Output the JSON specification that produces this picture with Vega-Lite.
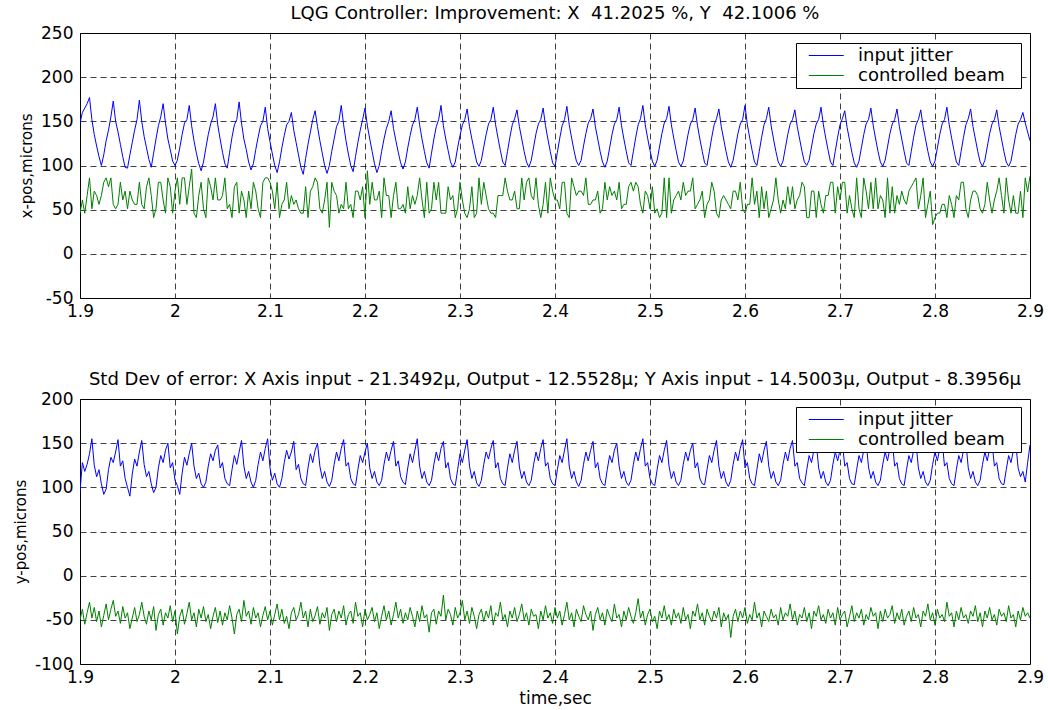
{
"$schema": "https://vega.github.io/schema/vega-lite/v6.json",
"background": "white",
"padding": {"left": 12, "top": 4, "right": 5, "bottom": 5},
"spacing": 50,
"data": {"values": [
{"t":1.9,"a":148,"b":46,"c":95,"d":-50},{"t":1.9025,"a":160,"b":61,"c":128,"d":-38},{"t":1.905,"a":165,"b":46,"c":118,"d":-55},{"t":1.9075,"a":170,"b":66,"c":126,"d":-42},
{"t":1.91,"a":177,"b":86,"c":138,"d":-30},{"t":1.9125,"a":152,"b":51,"c":155,"d":-48},{"t":1.915,"a":135,"b":71,"c":125,"d":-36},{"t":1.9175,"a":122,"b":66,"c":112,"d":-52},
{"t":1.92,"a":110,"b":56,"c":120,"d":-40},{"t":1.9225,"a":100,"b":66,"c":104,"d":-58},{"t":1.925,"a":112,"b":81,"c":92,"d":-45},{"t":1.9275,"a":128,"b":86,"c":98,"d":-32},
{"t":1.93,"a":140,"b":76,"c":120,"d":-50},{"t":1.9325,"a":155,"b":86,"c":134,"d":-38},{"t":1.935,"a":173,"b":56,"c":128,"d":-28},{"t":1.9375,"a":150,"b":51,"c":140,"d":-46},
{"t":1.94,"a":138,"b":56,"c":154,"d":-40},{"t":1.9425,"a":124,"b":81,"c":124,"d":-54},{"t":1.945,"a":110,"b":61,"c":130,"d":-35},{"t":1.9475,"a":98,"b":71,"c":110,"d":-48},
{"t":1.95,"a":97,"b":51,"c":100,"d":-42},{"t":1.9525,"a":112,"b":71,"c":90,"d":-60},{"t":1.955,"a":126,"b":61,"c":115,"d":-48},{"t":1.9575,"a":140,"b":56,"c":132,"d":-36},
{"t":1.96,"a":152,"b":56,"c":124,"d":-52},{"t":1.9625,"a":174,"b":81,"c":140,"d":-44},{"t":1.965,"a":150,"b":56,"c":153,"d":-30},{"t":1.9675,"a":133,"b":51,"c":126,"d":-46},
{"t":1.97,"a":120,"b":76,"c":112,"d":-55},{"t":1.9725,"a":107,"b":86,"c":118,"d":-40},{"t":1.975,"a":98,"b":66,"c":104,"d":-50},{"t":1.9775,"a":114,"b":41,"c":94,"d":-35},
{"t":1.98,"a":130,"b":51,"c":100,"d":-62},{"t":1.9825,"a":145,"b":81,"c":122,"d":-44},{"t":1.985,"a":155,"b":81,"c":136,"d":-38},{"t":1.9875,"a":170,"b":61,"c":128,"d":-56},
{"t":1.99,"a":148,"b":46,"c":142,"d":-42},{"t":1.9925,"a":130,"b":86,"c":150,"d":-48},{"t":1.995,"a":118,"b":76,"c":122,"d":-34},{"t":1.9975,"a":105,"b":46,"c":128,"d":-52},
{"t":2.0,"a":100,"b":71,"c":108,"d":-40},{"t":2.0025,"a":106,"b":86,"c":102,"d":-66},{"t":2.005,"a":120,"b":56,"c":92,"d":-46},{"t":2.0075,"a":135,"b":86,"c":116,"d":-38},
{"t":2.01,"a":148,"b":86,"c":134,"d":-55},{"t":2.0125,"a":152,"b":56,"c":125,"d":-43},{"t":2.015,"a":168,"b":76,"c":138,"d":-30},{"t":2.0175,"a":145,"b":96,"c":150,"d":-50},
{"t":2.02,"a":128,"b":46,"c":124,"d":-42},{"t":2.0225,"a":114,"b":41,"c":110,"d":-58},{"t":2.025,"a":102,"b":66,"c":116,"d":-38},{"t":2.0275,"a":94,"b":81,"c":104,"d":-48},
{"t":2.03,"a":104,"b":51,"c":100,"d":-35},{"t":2.0325,"a":120,"b":41,"c":106,"d":-52},{"t":2.035,"a":135,"b":86,"c":124,"d":-44},{"t":2.0375,"a":147,"b":76,"c":138,"d":-60},
{"t":2.04,"a":155,"b":61,"c":130,"d":-46},{"t":2.0425,"a":170,"b":86,"c":142,"d":-36},{"t":2.045,"a":146,"b":61,"c":148,"d":-53},{"t":2.0475,"a":130,"b":61,"c":122,"d":-40},
{"t":2.05,"a":115,"b":66,"c":128,"d":-56},{"t":2.0525,"a":102,"b":86,"c":110,"d":-42},{"t":2.055,"a":97,"b":51,"c":104,"d":-50},{"t":2.0575,"a":115,"b":56,"c":102,"d":-34},
{"t":2.06,"a":132,"b":41,"c":120,"d":-48},{"t":2.0625,"a":146,"b":76,"c":136,"d":-66},{"t":2.065,"a":152,"b":81,"c":126,"d":-44},{"t":2.0675,"a":172,"b":46,"c":140,"d":-38},
{"t":2.07,"a":148,"b":71,"c":153,"d":-52},{"t":2.0725,"a":130,"b":61,"c":124,"d":-28},{"t":2.075,"a":118,"b":41,"c":110,"d":-46},{"t":2.0775,"a":104,"b":71,"c":118,"d":-40},
{"t":2.08,"a":95,"b":51,"c":106,"d":-55},{"t":2.0825,"a":102,"b":81,"c":100,"d":-36},{"t":2.085,"a":118,"b":71,"c":108,"d":-48},{"t":2.0875,"a":132,"b":51,"c":126,"d":-42},
{"t":2.09,"a":145,"b":41,"c":140,"d":-58},{"t":2.0925,"a":150,"b":81,"c":130,"d":-45},{"t":2.095,"a":166,"b":86,"c":144,"d":-35},{"t":2.0975,"a":142,"b":86,"c":155,"d":-50},
{"t":2.1,"a":127,"b":81,"c":122,"d":-40},{"t":2.1025,"a":113,"b":71,"c":108,"d":-56},{"t":2.105,"a":100,"b":51,"c":116,"d":-44},{"t":2.1075,"a":92,"b":81,"c":104,"d":-32},
{"t":2.11,"a":104,"b":41,"c":100,"d":-50},{"t":2.1125,"a":120,"b":56,"c":110,"d":-38},{"t":2.115,"a":134,"b":61,"c":128,"d":-54},{"t":2.1175,"a":146,"b":81,"c":142,"d":-46},
{"t":2.12,"a":150,"b":51,"c":132,"d":-60},{"t":2.1225,"a":160,"b":66,"c":140,"d":-42},{"t":2.125,"a":140,"b":56,"c":152,"d":-36},{"t":2.1275,"a":126,"b":61,"c":120,"d":-50},
{"t":2.13,"a":112,"b":51,"c":126,"d":-44},{"t":2.1325,"a":98,"b":46,"c":110,"d":-30},{"t":2.135,"a":90,"b":46,"c":104,"d":-48},{"t":2.1375,"a":108,"b":76,"c":102,"d":-40},
{"t":2.14,"a":124,"b":41,"c":122,"d":-58},{"t":2.1425,"a":138,"b":71,"c":138,"d":-38},{"t":2.145,"a":152,"b":76,"c":128,"d":-52},{"t":2.1475,"a":162,"b":86,"c":142,"d":-45},
{"t":2.15,"a":144,"b":81,"c":150,"d":-35},{"t":2.1525,"a":128,"b":51,"c":124,"d":-55},{"t":2.155,"a":114,"b":46,"c":110,"d":-42},{"t":2.1575,"a":100,"b":61,"c":118,"d":-48},
{"t":2.16,"a":91,"b":81,"c":106,"d":-36},{"t":2.1625,"a":100,"b":30,"c":101,"d":-62},{"t":2.165,"a":116,"b":81,"c":108,"d":-44},{"t":2.1675,"a":130,"b":71,"c":126,"d":-38},
{"t":2.17,"a":144,"b":66,"c":140,"d":-52},{"t":2.1725,"a":150,"b":46,"c":130,"d":-40},{"t":2.175,"a":168,"b":56,"c":144,"d":-48},{"t":2.1775,"a":146,"b":51,"c":154,"d":-34},
{"t":2.18,"a":128,"b":81,"c":124,"d":-56},{"t":2.1825,"a":113,"b":51,"c":128,"d":-44},{"t":2.185,"a":100,"b":56,"c":110,"d":-40},{"t":2.1875,"a":93,"b":41,"c":104,"d":-54},
{"t":2.19,"a":110,"b":71,"c":102,"d":-30},{"t":2.1925,"a":126,"b":71,"c":120,"d":-46},{"t":2.195,"a":140,"b":61,"c":136,"d":-42},{"t":2.1975,"a":152,"b":76,"c":128,"d":-58},
{"t":2.2,"a":165,"b":41,"c":140,"d":-38},{"t":2.2025,"a":145,"b":94,"c":150,"d":-50},{"t":2.205,"a":130,"b":56,"c":122,"d":-44},{"t":2.2075,"a":116,"b":81,"c":110,"d":-36},
{"t":2.21,"a":102,"b":61,"c":118,"d":-52},{"t":2.2125,"a":92,"b":61,"c":106,"d":-42},{"t":2.215,"a":100,"b":71,"c":102,"d":-60},{"t":2.2175,"a":116,"b":41,"c":108,"d":-46},
{"t":2.22,"a":130,"b":86,"c":126,"d":-34},{"t":2.2225,"a":142,"b":66,"c":140,"d":-50},{"t":2.225,"a":150,"b":66,"c":130,"d":-40},{"t":2.2275,"a":162,"b":41,"c":142,"d":-56},
{"t":2.23,"a":142,"b":66,"c":152,"d":-44},{"t":2.2325,"a":128,"b":81,"c":124,"d":-30},{"t":2.235,"a":115,"b":51,"c":130,"d":-48},{"t":2.2375,"a":103,"b":51,"c":112,"d":-38},
{"t":2.24,"a":96,"b":56,"c":106,"d":-54},{"t":2.2425,"a":104,"b":46,"c":103,"d":-42},{"t":2.245,"a":120,"b":76,"c":122,"d":-50},{"t":2.2475,"a":134,"b":51,"c":138,"d":-36},
{"t":2.25,"a":146,"b":66,"c":128,"d":-46},{"t":2.2525,"a":152,"b":56,"c":142,"d":-58},{"t":2.255,"a":166,"b":66,"c":155,"d":-40},{"t":2.2575,"a":146,"b":86,"c":124,"d":-52},
{"t":2.26,"a":130,"b":61,"c":110,"d":-34},{"t":2.2625,"a":116,"b":41,"c":118,"d":-48},{"t":2.265,"a":103,"b":81,"c":106,"d":-44},{"t":2.2675,"a":97,"b":46,"c":102,"d":-64},
{"t":2.27,"a":114,"b":51,"c":108,"d":-42},{"t":2.2725,"a":130,"b":81,"c":126,"d":-38},{"t":2.275,"a":144,"b":61,"c":140,"d":-55},{"t":2.2775,"a":152,"b":81,"c":130,"d":-40},
{"t":2.28,"a":168,"b":46,"c":144,"d":-46},{"t":2.2825,"a":145,"b":46,"c":152,"d":-22},{"t":2.285,"a":130,"b":46,"c":122,"d":-50},{"t":2.2875,"a":117,"b":76,"c":128,"d":-38},
{"t":2.29,"a":104,"b":61,"c":110,"d":-44},{"t":2.2925,"a":98,"b":66,"c":104,"d":-56},{"t":2.295,"a":104,"b":41,"c":102,"d":-36},{"t":2.2975,"a":120,"b":51,"c":120,"d":-48},
{"t":2.3,"a":134,"b":81,"c":138,"d":-42},{"t":2.3025,"a":146,"b":61,"c":128,"d":-28},{"t":2.305,"a":152,"b":46,"c":142,"d":-50},{"t":2.3075,"a":164,"b":41,"c":154,"d":-40},
{"t":2.31,"a":144,"b":51,"c":124,"d":-54},{"t":2.3125,"a":130,"b":76,"c":110,"d":-36},{"t":2.315,"a":117,"b":41,"c":118,"d":-46},{"t":2.3175,"a":104,"b":46,"c":105,"d":-60},
{"t":2.32,"a":99,"b":86,"c":101,"d":-44},{"t":2.3225,"a":106,"b":56,"c":108,"d":-38},{"t":2.325,"a":121,"b":81,"c":126,"d":-52},{"t":2.3275,"a":135,"b":66,"c":140,"d":-40},
{"t":2.33,"a":147,"b":51,"c":132,"d":-48},{"t":2.3325,"a":152,"b":46,"c":144,"d":-34},{"t":2.335,"a":166,"b":46,"c":153,"d":-56},{"t":2.3375,"a":146,"b":41,"c":122,"d":-42},
{"t":2.34,"a":131,"b":66,"c":128,"d":-46},{"t":2.3425,"a":117,"b":66,"c":110,"d":-30},{"t":2.345,"a":104,"b":66,"c":104,"d":-50},{"t":2.3475,"a":100,"b":86,"c":102,"d":-44},
{"t":2.35,"a":116,"b":71,"c":122,"d":-58},{"t":2.3525,"a":132,"b":61,"c":138,"d":-40},{"t":2.355,"a":146,"b":61,"c":128,"d":-48},{"t":2.3575,"a":153,"b":71,"c":142,"d":-36},
{"t":2.36,"a":163,"b":51,"c":152,"d":-52},{"t":2.3625,"a":144,"b":51,"c":123,"d":-44},{"t":2.365,"a":130,"b":86,"c":110,"d":-32},{"t":2.3675,"a":116,"b":61,"c":118,"d":-50},
{"t":2.37,"a":104,"b":81,"c":106,"d":-42},{"t":2.3725,"a":98,"b":86,"c":102,"d":-56},{"t":2.375,"a":106,"b":66,"c":108,"d":-38},{"t":2.3775,"a":121,"b":61,"c":126,"d":-46},
{"t":2.38,"a":136,"b":86,"c":140,"d":-44},{"t":2.3825,"a":147,"b":56,"c":130,"d":-60},{"t":2.385,"a":152,"b":41,"c":144,"d":-40},{"t":2.3875,"a":165,"b":56,"c":154,"d":-50},
{"t":2.39,"a":145,"b":81,"c":124,"d":-34},{"t":2.3925,"a":130,"b":46,"c":128,"d":-48},{"t":2.395,"a":116,"b":86,"c":110,"d":-42},{"t":2.3975,"a":103,"b":71,"c":104,"d":-54},
{"t":2.4,"a":99,"b":61,"c":102,"d":-36},{"t":2.4025,"a":115,"b":61,"c":120,"d":-48},{"t":2.405,"a":131,"b":51,"c":136,"d":-40},{"t":2.4075,"a":145,"b":81,"c":128,"d":-56},
{"t":2.41,"a":152,"b":81,"c":142,"d":-44},{"t":2.4125,"a":167,"b":46,"c":155,"d":-30},{"t":2.415,"a":146,"b":41,"c":124,"d":-50},{"t":2.4175,"a":131,"b":86,"c":110,"d":-42},
{"t":2.42,"a":117,"b":76,"c":118,"d":-58},{"t":2.4225,"a":105,"b":66,"c":106,"d":-38},{"t":2.425,"a":100,"b":71,"c":101,"d":-46},{"t":2.4275,"a":106,"b":71,"c":108,"d":-52},
{"t":2.43,"a":122,"b":66,"c":126,"d":-34},{"t":2.4325,"a":136,"b":86,"c":140,"d":-44},{"t":2.435,"a":148,"b":56,"c":130,"d":-50},{"t":2.4375,"a":153,"b":56,"c":142,"d":-40},
{"t":2.44,"a":164,"b":61,"c":152,"d":-62},{"t":2.4425,"a":144,"b":61,"c":122,"d":-44},{"t":2.445,"a":130,"b":71,"c":128,"d":-36},{"t":2.4475,"a":116,"b":46,"c":110,"d":-50},
{"t":2.45,"a":104,"b":51,"c":104,"d":-42},{"t":2.4525,"a":98,"b":81,"c":102,"d":-56},{"t":2.455,"a":105,"b":61,"c":120,"d":-38},{"t":2.4575,"a":120,"b":76,"c":136,"d":-46},
{"t":2.46,"a":135,"b":66,"c":128,"d":-52},{"t":2.4625,"a":147,"b":71,"c":142,"d":-32},{"t":2.465,"a":152,"b":61,"c":150,"d":-48},{"t":2.4675,"a":166,"b":81,"c":124,"d":-44},
{"t":2.47,"a":145,"b":51,"c":110,"d":-58},{"t":2.4725,"a":130,"b":56,"c":118,"d":-40},{"t":2.475,"a":116,"b":56,"c":106,"d":-50},{"t":2.4775,"a":103,"b":76,"c":102,"d":-36},
{"t":2.48,"a":100,"b":81,"c":108,"d":-46},{"t":2.4825,"a":116,"b":71,"c":126,"d":-54},{"t":2.485,"a":132,"b":81,"c":140,"d":-42},{"t":2.4875,"a":146,"b":76,"c":130,"d":-26},
{"t":2.49,"a":153,"b":56,"c":144,"d":-48},{"t":2.4925,"a":168,"b":46,"c":155,"d":-40},{"t":2.495,"a":146,"b":71,"c":124,"d":-56},{"t":2.4975,"a":131,"b":66,"c":128,"d":-44},
{"t":2.5,"a":117,"b":51,"c":110,"d":-38},{"t":2.5025,"a":105,"b":76,"c":104,"d":-52},{"t":2.505,"a":99,"b":46,"c":102,"d":-46},{"t":2.5075,"a":106,"b":51,"c":120,"d":-60},
{"t":2.51,"a":121,"b":41,"c":136,"d":-40},{"t":2.5125,"a":136,"b":46,"c":128,"d":-48},{"t":2.515,"a":148,"b":86,"c":142,"d":-34},{"t":2.5175,"a":153,"b":41,"c":153,"d":-50},
{"t":2.52,"a":167,"b":86,"c":124,"d":-44},{"t":2.5225,"a":146,"b":46,"c":110,"d":-56},{"t":2.525,"a":131,"b":61,"c":118,"d":-38},{"t":2.5275,"a":117,"b":66,"c":106,"d":-48},
{"t":2.53,"a":104,"b":71,"c":102,"d":-42},{"t":2.5325,"a":99,"b":61,"c":108,"d":-54},{"t":2.535,"a":105,"b":81,"c":126,"d":-36},{"t":2.5375,"a":120,"b":66,"c":140,"d":-50},
{"t":2.54,"a":135,"b":71,"c":130,"d":-44},{"t":2.5425,"a":147,"b":71,"c":142,"d":-60},{"t":2.545,"a":152,"b":86,"c":150,"d":-40},{"t":2.5475,"a":165,"b":51,"c":122,"d":-46},
{"t":2.55,"a":145,"b":56,"c":128,"d":-32},{"t":2.5525,"a":130,"b":61,"c":110,"d":-50},{"t":2.555,"a":116,"b":71,"c":104,"d":-42},{"t":2.5575,"a":103,"b":41,"c":103,"d":-56},
{"t":2.56,"a":100,"b":56,"c":120,"d":-38},{"t":2.5625,"a":116,"b":61,"c":136,"d":-46},{"t":2.565,"a":132,"b":81,"c":128,"d":-52},{"t":2.5675,"a":146,"b":71,"c":142,"d":-40},
{"t":2.57,"a":153,"b":46,"c":153,"d":-48},{"t":2.5725,"a":164,"b":41,"c":124,"d":-36},{"t":2.575,"a":144,"b":61,"c":110,"d":-58},{"t":2.5775,"a":130,"b":66,"c":118,"d":-42},
{"t":2.58,"a":116,"b":61,"c":106,"d":-50},{"t":2.5825,"a":104,"b":56,"c":101,"d":-44},{"t":2.585,"a":98,"b":51,"c":108,"d":-70},{"t":2.5875,"a":106,"b":71,"c":126,"d":-46},
{"t":2.59,"a":121,"b":71,"c":140,"d":-38},{"t":2.5925,"a":136,"b":61,"c":130,"d":-52},{"t":2.595,"a":147,"b":81,"c":144,"d":-40},{"t":2.5975,"a":152,"b":51,"c":154,"d":-48},
{"t":2.6,"a":168,"b":46,"c":122,"d":-36},{"t":2.6025,"a":146,"b":56,"c":128,"d":-54},{"t":2.605,"a":131,"b":56,"c":110,"d":-44},{"t":2.6075,"a":117,"b":86,"c":104,"d":-50},
{"t":2.61,"a":104,"b":56,"c":102,"d":-30},{"t":2.6125,"a":100,"b":71,"c":120,"d":-48},{"t":2.615,"a":116,"b":41,"c":138,"d":-42},{"t":2.6175,"a":132,"b":76,"c":128,"d":-58},
{"t":2.62,"a":146,"b":51,"c":142,"d":-40},{"t":2.6225,"a":153,"b":71,"c":152,"d":-46},{"t":2.625,"a":166,"b":41,"c":124,"d":-52},{"t":2.6275,"a":145,"b":51,"c":110,"d":-38},
{"t":2.63,"a":130,"b":61,"c":118,"d":-48},{"t":2.6325,"a":116,"b":86,"c":106,"d":-44},{"t":2.635,"a":104,"b":61,"c":102,"d":-56},{"t":2.6375,"a":99,"b":46,"c":108,"d":-36},
{"t":2.64,"a":105,"b":61,"c":126,"d":-50},{"t":2.6425,"a":120,"b":51,"c":140,"d":-42},{"t":2.645,"a":135,"b":76,"c":130,"d":-46},{"t":2.6475,"a":147,"b":56,"c":144,"d":-32},
{"t":2.65,"a":152,"b":76,"c":153,"d":-50},{"t":2.6525,"a":163,"b":51,"c":124,"d":-40},{"t":2.655,"a":144,"b":61,"c":128,"d":-56},{"t":2.6575,"a":130,"b":66,"c":110,"d":-44},
{"t":2.66,"a":116,"b":81,"c":105,"d":-48},{"t":2.6625,"a":104,"b":76,"c":102,"d":-36},{"t":2.665,"a":100,"b":41,"c":120,"d":-52},{"t":2.6675,"a":106,"b":41,"c":136,"d":-42},
{"t":2.67,"a":121,"b":71,"c":128,"d":-60},{"t":2.6725,"a":136,"b":71,"c":142,"d":-40},{"t":2.675,"a":147,"b":41,"c":151,"d":-46},{"t":2.6775,"a":152,"b":71,"c":122,"d":-34},
{"t":2.68,"a":166,"b":56,"c":110,"d":-50},{"t":2.6825,"a":146,"b":46,"c":118,"d":-44},{"t":2.685,"a":131,"b":66,"c":106,"d":-54},{"t":2.6875,"a":117,"b":66,"c":102,"d":-38},
{"t":2.69,"a":104,"b":81,"c":108,"d":-48},{"t":2.6925,"a":100,"b":81,"c":126,"d":-42},{"t":2.695,"a":116,"b":46,"c":140,"d":-56},{"t":2.6975,"a":132,"b":76,"c":130,"d":-36},
{"t":2.7,"a":146,"b":61,"c":142,"d":-50},{"t":2.7025,"a":153,"b":81,"c":150,"d":-44},{"t":2.705,"a":162,"b":81,"c":124,"d":-40},{"t":2.7075,"a":143,"b":46,"c":128,"d":-58},
{"t":2.71,"a":129,"b":66,"c":110,"d":-46},{"t":2.7125,"a":115,"b":51,"c":104,"d":-34},{"t":2.715,"a":103,"b":41,"c":103,"d":-52},{"t":2.7175,"a":98,"b":86,"c":120,"d":-42},
{"t":2.72,"a":105,"b":51,"c":136,"d":-48},{"t":2.7225,"a":120,"b":41,"c":128,"d":-38},{"t":2.725,"a":135,"b":86,"c":142,"d":-56},{"t":2.7275,"a":147,"b":71,"c":152,"d":-44},
{"t":2.73,"a":152,"b":51,"c":123,"d":-50},{"t":2.7325,"a":165,"b":81,"c":110,"d":-36},{"t":2.735,"a":145,"b":51,"c":118,"d":-46},{"t":2.7375,"a":130,"b":86,"c":106,"d":-42},
{"t":2.74,"a":116,"b":51,"c":102,"d":-60},{"t":2.7425,"a":104,"b":66,"c":108,"d":-40},{"t":2.745,"a":99,"b":61,"c":126,"d":-52},{"t":2.7475,"a":106,"b":41,"c":140,"d":-38},
{"t":2.75,"a":121,"b":86,"c":130,"d":-48},{"t":2.7525,"a":136,"b":46,"c":144,"d":-44},{"t":2.755,"a":147,"b":76,"c":154,"d":-34},{"t":2.7575,"a":152,"b":46,"c":124,"d":-54},
{"t":2.76,"a":164,"b":66,"c":128,"d":-42},{"t":2.7625,"a":144,"b":56,"c":110,"d":-50},{"t":2.765,"a":130,"b":71,"c":104,"d":-38},{"t":2.7675,"a":116,"b":61,"c":102,"d":-56},
{"t":2.77,"a":103,"b":56,"c":120,"d":-46},{"t":2.7725,"a":100,"b":71,"c":136,"d":-40},{"t":2.775,"a":116,"b":76,"c":128,"d":-52},{"t":2.7775,"a":132,"b":81,"c":142,"d":-36},
{"t":2.78,"a":146,"b":86,"c":150,"d":-48},{"t":2.7825,"a":152,"b":51,"c":122,"d":-44},{"t":2.785,"a":163,"b":66,"c":110,"d":-58},{"t":2.7875,"a":144,"b":86,"c":118,"d":-40},
{"t":2.79,"a":130,"b":41,"c":106,"d":-46},{"t":2.7925,"a":116,"b":56,"c":102,"d":-32},{"t":2.795,"a":104,"b":71,"c":108,"d":-50},{"t":2.7975,"a":99,"b":33,"c":126,"d":-42},
{"t":2.8,"a":105,"b":41,"c":140,"d":-56},{"t":2.8025,"a":120,"b":46,"c":130,"d":-38},{"t":2.805,"a":135,"b":46,"c":144,"d":-48},{"t":2.8075,"a":147,"b":56,"c":153,"d":-44},
{"t":2.81,"a":152,"b":56,"c":124,"d":-52},{"t":2.8125,"a":166,"b":41,"c":128,"d":-30},{"t":2.815,"a":146,"b":66,"c":110,"d":-46},{"t":2.8175,"a":131,"b":56,"c":104,"d":-42},
{"t":2.82,"a":117,"b":41,"c":102,"d":-58},{"t":2.8225,"a":104,"b":66,"c":120,"d":-40},{"t":2.825,"a":100,"b":61,"c":136,"d":-50},{"t":2.8275,"a":116,"b":81,"c":128,"d":-36},
{"t":2.83,"a":132,"b":81,"c":142,"d":-48},{"t":2.8325,"a":146,"b":51,"c":151,"d":-44},{"t":2.835,"a":153,"b":41,"c":122,"d":-54},{"t":2.8375,"a":164,"b":61,"c":110,"d":-40},
{"t":2.84,"a":144,"b":71,"c":118,"d":-46},{"t":2.8425,"a":130,"b":71,"c":106,"d":-34},{"t":2.845,"a":116,"b":66,"c":102,"d":-52},{"t":2.8475,"a":104,"b":51,"c":108,"d":-42},
{"t":2.85,"a":99,"b":46,"c":126,"d":-58},{"t":2.8525,"a":106,"b":56,"c":140,"d":-40},{"t":2.855,"a":121,"b":81,"c":130,"d":-48},{"t":2.8575,"a":136,"b":61,"c":144,"d":-36},
{"t":2.86,"a":147,"b":46,"c":152,"d":-50},{"t":2.8625,"a":152,"b":61,"c":124,"d":-44},{"t":2.865,"a":163,"b":71,"c":128,"d":-56},{"t":2.8675,"a":144,"b":86,"c":110,"d":-38},
{"t":2.87,"a":130,"b":66,"c":104,"d":-46},{"t":2.8725,"a":116,"b":46,"c":103,"d":-42},{"t":2.875,"a":104,"b":86,"c":120,"d":-52},{"t":2.8775,"a":99,"b":61,"c":136,"d":-34},
{"t":2.88,"a":105,"b":46,"c":128,"d":-48},{"t":2.8825,"a":120,"b":66,"c":142,"d":-44},{"t":2.885,"a":135,"b":46,"c":150,"d":-58},{"t":2.8875,"a":147,"b":46,"c":122,"d":-40},
{"t":2.89,"a":152,"b":71,"c":112,"d":-50},{"t":2.8925,"a":160,"b":41,"c":118,"d":-36},{"t":2.895,"a":148,"b":86,"c":106,"d":-46},{"t":2.8975,"a":138,"b":70,"c":128,"d":-42},
{"t":2.9,"a":128,"b":88,"c":148,"d":-48}
]},
"resolve": {"scale": {"color": "independent", "x": "independent", "y": "independent"}, "legend": {"color": "independent"}},
"vconcat": [
{
"width": 950, "height": 265,
"title": {"text": "LQG Controller: Improvement: X\u00a0 41.2025 %, Y\u00a0 42.1006 %"},
"layer": [
{"mark": {"type": "line", "strokeWidth": 1, "clip": true},
 "encoding": {
  "x": {"field": "t", "type": "quantitative", "scale": {"domain": [1.9, 2.9], "nice": false, "zero": false}, "axis": {"title": null, "values": [1.9, 2, 2.1, 2.2, 2.3, 2.4, 2.5, 2.6, 2.7, 2.8, 2.9], "labelExpr": "'' + datum.value"}},
  "y": {"field": "a", "type": "quantitative", "scale": {"domain": [-50, 250], "nice": false, "zero": false}, "axis": {"title": "x-pos,microns", "values": [-50, 0, 50, 100, 150, 200, 250], "labelExpr": "'' + datum.value"}},
  "color": {"datum": "input jitter", "type": "nominal", "scale": {"domain": ["input jitter", "controlled beam"], "range": ["#0000ff", "#008000"]}, "legend": {"title": null, "orient": "none", "legendX": 716, "legendY": 10, "labelExpr": "datum.label + '\u2800'"}}
 }},
{"mark": {"type": "line", "strokeWidth": 1, "clip": true},
 "encoding": {
  "x": {"field": "t", "type": "quantitative", "axis": {"title": null, "values": [1.9, 2, 2.1, 2.2, 2.3, 2.4, 2.5, 2.6, 2.7, 2.8, 2.9], "labelExpr": "'' + datum.value"}},
  "y": {"field": "b", "type": "quantitative", "axis": {"title": "x-pos,microns", "values": [-50, 0, 50, 100, 150, 200, 250], "labelExpr": "'' + datum.value"}},
  "color": {"datum": "controlled beam", "type": "nominal", "legend": {"title": null, "orient": "none", "legendX": 716, "legendY": 10, "labelExpr": "datum.label + '\u2800'"}}
 }}
]
},
{
"width": 950, "height": 265,
"title": {"text": "Std Dev of error: X Axis input - 21.3492\u03bc, Output - 12.5528\u03bc; Y Axis input - 14.5003\u03bc, Output - 8.3956\u03bc"},
"layer": [
{"mark": {"type": "line", "strokeWidth": 1, "clip": true},
 "encoding": {
  "x": {"field": "t", "type": "quantitative", "scale": {"domain": [1.9, 2.9], "nice": false, "zero": false}, "axis": {"title": "time,sec", "values": [1.9, 2, 2.1, 2.2, 2.3, 2.4, 2.5, 2.6, 2.7, 2.8, 2.9], "labelExpr": "'' + datum.value"}},
  "y": {"field": "c", "type": "quantitative", "scale": {"domain": [-100, 200], "nice": false, "zero": false}, "axis": {"title": "y-pos,microns", "values": [-100, -50, 0, 50, 100, 150, 200], "labelExpr": "'' + datum.value"}},
  "color": {"datum": "input jitter", "type": "nominal", "scale": {"domain": ["input jitter", "controlled beam"], "range": ["#0000ff", "#008000"]}, "legend": {"title": null, "orient": "none", "legendX": 716, "legendY": 8, "labelExpr": "datum.label + '\u2800'"}}
 }},
{"mark": {"type": "line", "strokeWidth": 1, "clip": true},
 "encoding": {
  "x": {"field": "t", "type": "quantitative", "axis": {"title": "time,sec", "values": [1.9, 2, 2.1, 2.2, 2.3, 2.4, 2.5, 2.6, 2.7, 2.8, 2.9], "labelExpr": "'' + datum.value"}},
  "y": {"field": "d", "type": "quantitative", "axis": {"title": "y-pos,microns", "values": [-100, -50, 0, 50, 100, 150, 200], "labelExpr": "'' + datum.value"}},
  "color": {"datum": "controlled beam", "type": "nominal", "legend": {"title": null, "orient": "none", "legendX": 716, "legendY": 8, "labelExpr": "datum.label + '\u2800'"}}
 }}
]
}
],
"config": {
 "font": "DejaVu Sans",
 "view": {"stroke": "#000000", "strokeWidth": 1},
 "axis": {"domain": false, "ticks": false, "grid": true, "gridColor": "#000000", "gridDash": [6, 4], "gridWidth": 1, "gridOpacity": 0.75, "labelFont": "DejaVu Sans", "labelFontSize": 17, "labelColor": "#000000", "labelFlush": false, "labelOverlap": false, "titleFont": "DejaVu Sans", "titleFontWeight": "normal", "titleColor": "#000000"},
 "axisX": {"labelPadding": 5, "titleFontSize": 17, "titlePadding": 5},
 "axisY": {"labelPadding": 7, "titlePadding": 6, "titleFontSize": 15},
 "title": {"font": "DejaVu Sans", "fontSize": 18, "fontWeight": "normal", "color": "#000000", "offset": 1},
 "legend": {"labelFont": "DejaVu Sans", "labelFontSize": 18, "labelColor": "#000000", "labelLimit": 400, "strokeColor": "#000000", "fillColor": "#ffffff", "padding": 3, "cornerRadius": 0, "rowPadding": 1, "symbolType": "M-1,0L3,0", "symbolSize": 306, "symbolStrokeWidth": 1, "symbolOffset": 9, "labelOffset": 31}
}
}
